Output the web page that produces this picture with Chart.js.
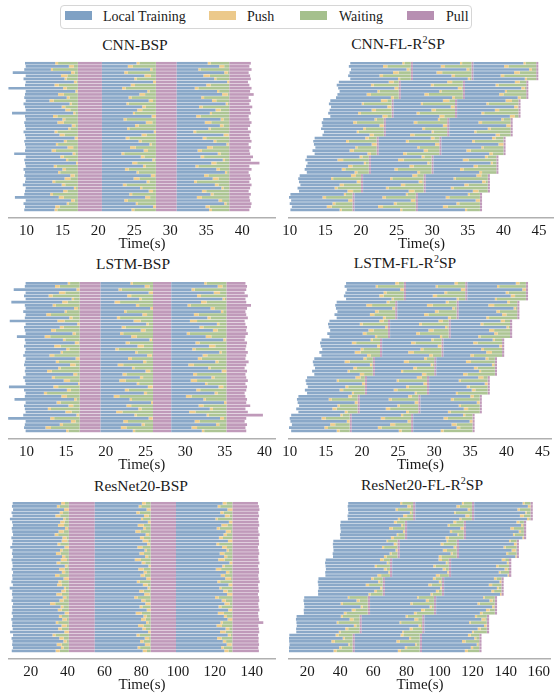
<!DOCTYPE html>
<html><head><meta charset="utf-8">
<script src="https://cdn.jsdelivr.net/npm/chart.js@4.4.1/dist/chart.umd.min.js"></script>
<style>
html,body{margin:0;padding:0;background:#fff;}
body{width:555px;height:696px;position:relative;overflow:hidden;font-family:"Liberation Serif","Times New Roman",serif;color:#1a1a1a;}
canvas{position:absolute;}
.t{position:absolute;transform:translate(-50%,-50%);font-size:15.5px;white-space:nowrap;line-height:18px;}
.t sup{font-size:10px;vertical-align:0;position:relative;top:-6px;}
#legend{position:absolute;left:60px;top:5px;width:410px;height:22px;border:1px solid #d6d6d6;border-radius:4px;}
.sw{position:absolute;top:5px;width:27px;height:9px;}
.lt{position:absolute;top:0;height:22px;line-height:22px;font-size:14px;white-space:nowrap;}
</style></head>
<body>
<div id="legend">
  <div class="sw" style="left:4px;background:#7fa1c4"></div><div class="lt" style="left:42px">Local Training</div>
  <div class="sw" style="left:148px;background:#ecc98b"></div><div class="lt" style="left:186px">Push</div>
  <div class="sw" style="left:239px;background:#a5c08d"></div><div class="lt" style="left:278px">Waiting</div>
  <div class="sw" style="left:346px;background:#b78fb2"></div><div class="lt" style="left:385px">Pull</div>
</div>
<div class="t" style="left:135px;top:45px">CNN-BSP</div>
<div class="t" style="left:398px;top:45px">CNN-FL-R<sup>2</sup>SP</div>
<div class="t" style="left:133px;top:264px">LSTM-BSP</div>
<div class="t" style="left:405px;top:264px">LSTM-FL-R<sup>2</sup>SP</div>
<div class="t" style="left:141px;top:486px">ResNet20-BSP</div>
<div class="t" style="left:422px;top:486px">ResNet20-FL-R<sup>2</sup>SP</div>
<canvas id="c1" width="268" height="198" style="left:8px;top:55px"></canvas>
<canvas id="c2" width="277" height="198" style="left:277px;top:55px"></canvas>
<canvas id="c3" width="268" height="199" style="left:8px;top:275px"></canvas>
<canvas id="c4" width="277" height="199" style="left:277px;top:275px"></canvas>
<canvas id="c5" width="268" height="199" style="left:8px;top:495px"></canvas>
<canvas id="c6" width="277" height="199" style="left:277px;top:495px"></canvas>
<script>
// ---------- CNN-BSP ----------
const cnnBspStart = [
9.8,9.9,9.7,8.1,9.9,9.6,9.9,9.8,
7.5,9.9,9.8,9.7,9.9,9.6,9.8,9.9,
8.0,9.8,9.9,9.7,9.8,9.9,9.6,9.8,
9.9,9.7,9.8,9.9,9.8,8.3,9.9,9.7,
9.8,9.9,9.6,9.8,9.7,9.9,9.8,9.5,
9.9,9.8,9.7,8.4,9.9,9.6,9.8,9.7];
const cnnBspTrain1 = [
14.0,15.9,13.4,16.2,14.8,15.3,16.6,13.9,
15.1,16.8,14.4,15.6,13.2,16.0,14.9,15.4,
16.5,13.7,15.0,14.3,16.3,15.8,13.9,14.6,
16.7,15.2,14.1,15.7,13.5,16.4,14.7,15.5,
16.9,13.8,15.0,14.4,16.1,15.3,13.6,14.9,
16.6,15.1,13.3,14.5,16.2,15.6,14.0,13.9];
const cnnBspTrain2 = [
25.3,24.1,27.2,23.6,26.4,25.0,27.6,24.5,
23.3,26.8,25.7,24.2,27.0,23.9,26.1,25.4,
24.8,27.4,23.5,26.6,25.1,24.0,27.7,26.0,
23.8,25.6,27.1,24.4,26.3,23.2,25.9,27.5,
24.7,26.2,23.7,25.3,27.3,24.9,26.7,23.4,
25.8,27.0,24.3,26.5,23.6,25.2,27.6,24.6];
const cnnBspTrain3 = [
35.2,36.8,33.9,37.5,34.6,36.1,37.9,35.0,
33.4,36.5,37.2,34.3,35.8,37.7,34.0,36.3,
35.5,33.6,37.0,34.8,36.9,35.3,33.2,37.4,
34.5,36.0,37.8,35.1,33.8,36.6,34.2,37.3,
35.7,33.5,36.4,37.6,34.7,35.9,33.3,36.2,
37.1,34.4,35.6,33.7,36.7,37.5,34.9,35.4];
const cnnBspPush = [
0.4,0.7,0.3,0.5,0.9,0.3,0.4,0.6,
0.5,0.3,0.8,0.4,0.6,0.3,0.5,0.7,
0.3,0.6,0.4,0.9,0.5,0.3,0.4,0.7,
0.5,0.4,0.3,0.8,0.6,0.4,0.5,0.3,
0.7,0.4,0.5,0.3,0.6,0.8,0.4,0.5,
0.3,0.6,0.4,0.7,0.5,0.3,0.6,0.4];
const cnnBspEnd = [
41.2,41.0,41.3,40.9,41.1,41.2,40.8,41.0,
41.3,41.1,41.6,40.9,41.2,41.0,41.4,41.1,
41.2,40.9,41.0,41.3,41.1,40.8,41.2,41.0,
41.1,41.3,40.9,41.2,41.0,41.1,41.5,41.2,
42.4,41.0,41.3,40.9,41.1,41.2,41.0,41.3,
41.1,40.9,41.2,41.0,41.1,41.3,41.2,41.0];
const cnnBspBarrier = [17.15, 28.0, 38.2];
const cnnBspPullEnd = [20.5, 30.9];
const cnnBspTicks = [10,15,20,25,30,35,40];

// ---------- LSTM-BSP ----------
const lstmBspStart = [
9.9,9.8,8.4,9.9,9.7,9.9,8.1,9.8,
9.9,9.6,9.9,9.8,7.9,9.9,9.7,9.8,
9.9,8.8,9.8,9.9,9.7,9.9,9.8,9.6,
9.9,9.8,9.7,9.9,9.8,9.9,9.6,9.8,
9.9,7.8,9.7,9.9,9.8,8.5,9.9,9.7,
9.8,9.9,9.6,7.7,9.9,9.8,9.7,9.9];
const lstmBspTrain1 = [
15.2,13.6,16.3,14.1,12.8,15.7,14.5,13.3,
16.0,14.8,12.5,15.4,13.9,16.4,14.2,13.1,
15.8,12.3,14.6,16.1,13.5,15.0,14.3,12.9,
16.2,13.7,15.5,14.0,12.6,15.9,13.2,14.7,
16.5,13.4,15.1,12.2,14.4,16.0,13.8,15.3,
12.7,14.9,16.3,13.0,15.6,14.2,12.4,15.0];
const lstmBspTrain2 = [
23.1,24.9,21.6,25.4,22.7,24.2,21.1,23.8,
25.6,22.3,24.6,21.4,23.5,25.1,22.0,24.4,
21.8,23.2,25.5,22.5,24.0,21.2,23.7,25.2,
22.8,24.7,21.5,23.3,25.0,22.1,24.3,21.7,
23.9,25.3,22.4,24.8,21.0,23.0,25.7,22.6,
24.1,21.3,23.6,25.4,22.2,24.5,21.9,23.4];
const lstmBspTrain3 = [
32.4,34.1,30.8,33.6,31.5,34.7,32.0,30.3,
33.2,34.5,31.1,32.8,30.6,34.0,31.8,33.5,
30.2,32.6,34.8,31.3,33.0,30.9,34.3,32.2,
31.6,33.8,30.4,32.9,34.6,31.0,33.3,30.7,
32.5,34.2,31.4,33.7,30.1,32.3,34.9,31.7,
33.1,30.5,32.7,34.4,31.2,33.9,30.8,32.1];
const lstmBspPush = [
0.3,0.6,0.4,0.8,0.5,0.3,0.7,0.4,
0.5,0.3,0.6,0.4,0.9,0.3,0.5,0.6,
0.4,0.7,0.3,0.5,0.8,0.4,0.3,0.6,
0.5,0.4,0.7,0.3,0.6,0.5,0.4,0.8,
0.3,0.6,0.5,0.4,0.7,0.3,0.5,0.6,
0.4,0.8,0.3,0.5,0.6,0.4,0.7,0.3];
const lstmBspEnd = [
37.6,37.8,37.7,37.5,37.9,37.6,37.7,38.3,
37.8,37.6,37.7,37.9,37.5,37.6,37.8,37.7,
37.9,37.6,37.5,37.8,37.7,37.6,37.9,37.7,
37.6,38.0,37.7,37.5,37.8,37.6,37.7,37.9,
37.6,37.8,37.7,37.5,37.6,37.8,37.7,38.2,
37.6,37.9,39.8,37.7,37.5,37.8,37.6,37.7];
const lstmBspBarrier = [16.7, 25.95, 35.2];
const lstmBspPullEnd = [19.35, 28.25];
const lstmBspTicks = [10,15,20,25,30,35,40];

// ---------- ResNet20-BSP ----------
const resBspStart = [
10.2,9.8,10.4,9.6,10.1,8.7,9.9,10.3,
9.7,10.0,10.4,9.5,10.2,9.9,8.9,10.1,
9.8,10.3,9.6,10.0,10.2,9.7,10.4,9.9,
10.1,9.5,10.3,8.6,10.0,9.8,10.2,9.6,
10.4,9.9,10.1,9.7,10.3,9.5,10.0,9.8,
10.2,8.8,10.4,9.6,10.1,9.9,10.3,9.7];
const resBspTrain1 = [
36.5,34.2,38.1,35.7,33.4,37.6,36.0,34.8,
38.6,35.1,33.0,37.2,36.8,34.5,38.3,35.9,
33.7,37.0,36.3,34.0,38.5,35.4,36.9,33.2,
37.8,35.0,34.3,38.0,36.6,33.9,37.4,35.6,
30.5,36.2,34.7,38.4,35.3,37.1,33.6,36.7,
34.9,38.2,31.8,35.5,37.7,34.1,36.4,33.5];
const resBspTrain2 = [
80.4,78.6,82.9,77.3,81.5,79.8,83.6,78.1,
81.0,76.8,82.4,79.3,80.7,83.2,77.9,81.8,
79.0,82.1,76.5,80.2,83.9,78.4,81.3,79.6,
82.7,77.6,80.9,83.4,78.9,81.6,76.2,80.0,
82.2,79.1,83.0,77.0,81.2,79.9,82.6,78.3,
80.6,83.7,77.4,81.9,79.4,82.0,78.0,80.8];
const resBspTrain3 = [
124.2,121.5,126.8,122.9,125.4,120.3,127.6,123.5,
121.0,125.9,124.7,122.2,127.1,120.8,123.9,126.3,
122.6,125.0,121.8,127.9,124.0,120.5,126.0,123.2,
125.6,121.3,127.4,122.4,124.5,126.6,120.1,123.7,
125.2,122.0,127.2,121.6,124.9,126.9,123.0,120.9,
125.8,122.8,127.0,121.2,124.3,126.4,123.4,125.1];
const resBspPush = [
2.1,1.4,3.0,1.8,2.6,1.2,2.4,3.3,
1.6,2.8,1.9,2.2,3.1,1.5,2.7,1.3,
2.5,1.7,3.4,2.0,1.4,2.9,1.8,2.3,
3.2,1.6,2.6,1.1,2.4,3.0,1.9,2.2,
2.8,1.5,2.1,3.3,1.7,2.5,1.3,2.9,
2.0,3.1,1.6,2.4,1.8,2.7,1.4,2.3];
const resBspEnd = [
143.4,143.9,144.2,143.6,144.0,143.5,143.8,144.1,
143.5,143.7,144.3,143.6,143.9,144.0,143.4,143.8,
144.1,143.6,143.7,144.2,143.5,143.9,144.0,143.6,
143.8,144.3,143.5,143.7,144.0,143.4,143.9,144.1,
143.6,143.8,144.2,143.5,143.7,144.0,146.3,143.6,
143.9,144.1,143.5,143.8,143.7,144.0,143.6,143.9];
const resBspBarrier = [40.7, 85.1, 129.5];
const resBspPullEnd = [54.8, 98.9];
const resBspTicks = [20,40,60,80,100,120,140];

// ---------- CNN-FL-R2SP (8 groups x 6 workers) ----------
const cnnFlStart = [
18.5,18.3,18.6,18.4,18.2,18.5, 16.9,16.6,16.8,17.0,16.7,16.5,
15.7,15.5,15.8,15.6,15.4,15.7, 14.7,14.5,14.6,14.4,14.8,14.6,
13.5,13.3,13.4,13.6,13.2,13.5, 12.4,12.2,12.5,12.3,12.1,12.4,
11.4,11.2,11.3,11.5,11.1,11.3, 10.1,9.9,10.2,10.0,10.3,10.1];
const cnnFlTrain1 = [
25.8,23.1,26.4,24.5,22.6,25.2, 23.9,21.4,24.7,22.3,20.8,24.2,
22.8,20.1,23.7,21.5,19.6,23.0, 21.9,18.9,22.6,20.3,19.4,21.2,
20.6,17.9,21.5,19.2,18.4,20.9, 19.8,16.7,20.4,18.2,17.3,19.1,
18.6,15.8,19.4,17.0,16.3,18.1, 17.6,14.6,18.2,16.0,15.2,17.0];
const cnnFlTrain2 = [
33.9,31.2,34.8,30.6,32.7,35.0, 32.1,29.8,33.6,31.0,28.9,32.8,
31.5,28.4,32.6,29.9,27.8,31.0, 30.8,27.4,31.5,28.6,29.9,26.9,
29.8,26.3,30.4,27.9,28.8,25.9, 28.5,25.2,29.3,26.8,24.7,27.9,
27.2,24.1,28.1,25.6,23.5,26.7, 26.3,23.0,27.0,24.6,22.4,25.5];
const cnnFlTrain3 = [
42.8,40.1,43.6,41.5,39.6,43.0, 41.6,38.9,42.5,40.2,39.4,42.0,
40.3,37.6,41.5,38.8,36.9,40.9, 39.7,36.5,40.4,37.8,35.9,38.9,
38.4,35.6,39.3,36.9,34.8,38.0, 37.4,34.3,38.2,35.8,33.9,36.6,
36.2,33.0,37.0,34.5,32.6,35.7, 35.0,31.9,36.1,33.4,31.5,34.6];
const cnnFlPush = [
0.3,0.6,0.4,0.8,0.5,0.3, 0.7,0.4,0.5,0.3,0.6,0.4,
0.9,0.3,0.5,0.6,0.4,0.7, 0.3,0.5,0.8,0.4,0.3,0.6,
0.5,0.4,0.7,0.3,0.6,0.5, 0.4,0.8,0.3,0.6,0.5,0.4,
0.7,0.3,0.5,0.6,0.4,0.8, 0.3,0.5,0.6,0.4,0.7,0.3];
const cnnFlSync1 = [27.0,25.3,24.3,23.2,22.2,21.1,20.0,18.8];
const cnnFlSync2 = [35.5,34.3,33.2,32.1,31.0,29.9,28.8,27.7];
const cnnFlSync3 = [44.6,43.2,42.1,41.0,40.0,39.0,37.8,36.7];
const cnnFlPull = 0.3;
const cnnFlTicks = [10,15,20,25,30,35,40,45];

// ---------- LSTM-FL-R2SP ----------
const lstmFlStart = [
17.8,17.6,17.9,17.7,17.5,17.8, 16.5,16.3,16.4,16.6,16.2,16.5,
15.5,15.3,15.4,15.6,15.2,15.5, 14.4,14.2,14.3,14.5,14.1,14.4,
13.4,13.2,13.3,13.5,13.1,13.4, 12.4,12.2,12.3,12.5,12.1,12.4,
11.2,11.0,11.1,11.3,10.9,11.2, 10.2,10.0,10.1,10.3,9.9,10.2];
const lstmFlTrain1 = [
24.6,21.9,25.3,23.0,22.4,24.1, 23.4,20.6,24.2,21.8,21.1,22.9,
22.4,19.7,23.2,20.9,20.1,21.8, 21.2,18.6,22.1,19.8,19.0,20.7,
20.2,17.6,21.1,18.8,18.0,19.7, 19.1,16.5,20.0,17.7,16.9,18.6,
18.1,15.4,19.0,16.6,15.9,17.6, 17.0,14.4,17.9,15.6,14.8,16.5];
const lstmFlTrain2 = [
32.8,30.2,33.7,31.4,29.8,33.1, 31.6,29.0,32.5,30.1,28.6,31.9,
30.6,27.9,31.5,29.2,27.5,30.8, 29.6,26.8,30.5,28.1,26.4,29.3,
28.6,25.8,29.5,27.1,25.4,28.3, 27.6,24.8,28.5,26.1,24.4,27.3,
26.4,23.7,27.3,24.9,23.3,26.1, 25.4,22.6,26.3,23.9,22.2,25.1];
const lstmFlTrain3 = [
41.3,38.7,42.2,39.9,40.6,38.4, 40.1,37.5,41.0,38.6,39.4,37.2,
39.2,36.4,40.0,37.6,38.3,36.1, 38.1,35.4,39.0,36.5,37.2,35.0,
37.1,34.4,38.0,35.5,36.2,34.0, 36.1,33.4,37.0,34.5,35.2,33.0,
35.0,32.3,35.9,33.4,34.1,31.9, 34.0,31.3,34.9,32.4,33.1,30.9];
const lstmFlPush = [
0.5,0.3,0.7,0.4,0.6,0.3, 0.4,0.8,0.3,0.5,0.6,0.4,
0.6,0.4,0.3,0.7,0.5,0.3, 0.3,0.6,0.5,0.4,0.8,0.5,
0.4,0.7,0.3,0.5,0.3,0.6, 0.7,0.3,0.6,0.4,0.5,0.3,
0.5,0.4,0.8,0.3,0.6,0.4, 0.3,0.6,0.4,0.7,0.5,0.4];
const lstmFlSync1 = [25.8,24.6,23.6,22.5,21.5,20.4,19.4,18.3];
const lstmFlSync2 = [34.3,33.1,32.0,31.0,30.0,29.0,27.8,26.8];
const lstmFlSync3 = [42.7,41.5,40.5,39.4,38.4,37.4,36.3,35.3];
const lstmFlPull = 0.3;
const lstmFlTicks = [10,15,20,25,30,35,40,45];

// ---------- ResNet20-FL-R2SP ----------
const resFlStart = [
44.8,44.5,44.7,44.9,44.4,44.6, 40.2,39.9,40.1,40.3,39.8,40.0,
35.8,35.5,35.7,35.9,35.4,35.6, 31.2,30.8,31.1,31.3,30.9,31.0,
26.8,26.4,26.7,26.9,26.5,26.6, 18.2,17.8,18.1,18.3,17.9,18.0,
13.6,13.2,13.5,13.7,13.3,13.4, 9.2,8.8,9.1,9.3,8.9,9.0];
const resFlTrain1 = [
76.2,80.5,73.4,82.1,78.0,74.8, 72.4,76.8,69.5,77.9,74.1,70.6,
67.9,72.3,65.2,73.4,69.8,66.4, 64.0,68.1,60.8,66.3,69.0,62.4,
58.6,62.9,55.4,64.1,60.5,57.0, 44.5,49.8,40.2,52.3,46.9,42.1,
40.3,45.6,37.8,48.2,43.0,39.1, 37.2,41.5,34.6,44.8,39.3,35.9];
const resFlTrain2 = [
113.5,110.2,117.0,108.8,115.6,111.9, 108.3,104.9,112.6,106.2,110.8,103.7,
104.2,100.6,108.5,102.0,106.7,99.5, 99.4,103.8,96.2,101.9,104.6,97.8,
96.0,99.6,93.2,100.4,97.8,94.5, 86.4,91.7,82.3,94.0,88.8,84.5,
79.5,84.7,75.8,87.3,81.9,77.4, 76.4,81.6,73.9,85.2,79.0,74.8];
const resFlTrain3 = [
150.2,153.4,147.1,151.8,148.6,152.9, 146.5,149.3,142.8,147.9,144.4,150.1,
142.0,145.0,138.7,143.6,140.3,145.8, 137.6,140.7,134.2,139.3,135.8,141.1,
132.9,136.2,129.8,134.7,131.3,136.6, 126.3,130.2,122.9,131.8,128.1,124.4,
121.4,125.3,117.9,126.9,123.1,119.6, 117.2,121.0,113.6,122.5,118.9,115.3];
const resFlPush = [
1.2,2.0,1.5,0.9,2.4,1.3, 1.8,1.1,2.2,1.4,0.9,1.9,
1.0,1.7,1.3,2.5,1.2,1.6, 2.1,0.9,1.4,1.8,1.1,2.3,
1.5,1.2,2.0,1.0,1.7,1.3, 0.9,1.9,1.4,1.2,2.2,1.6,
1.3,2.4,1.0,1.5,1.8,1.1, 1.7,1.2,2.1,0.9,1.4,1.9];
const resFlSync1 = [84.0,79.0,74.6,70.0,65.6,56.6,51.6,47.4];
const resFlSync2 = [119.6,114.6,110.4,105.6,101.4,96.6,89.5,88.0];
const resFlSync3 = [155.0,151.0,146.6,142.0,137.4,133.4,128.6,124.0];
const resFlPull = 1.4;
const resFlTicks = [20,40,60,80,100,120,140,160];

// ---------- build segments ----------
const COLORS = {train:'#8aa8c8', push:'#eecd8d', wait:'#adc594', pull:'#c09aba'};
const TYPES = ['train','push','wait','pull'];

function emptySegs(){ const s={}; TYPES.forEach(t=>s[t]=[[],[],[]]); return s; }
function addRound(segs, r, i, rs, te, push, barrier, pe){
  const pushEnd = Math.min(te + push, barrier);
  segs.train[r].push({y:i, x:[rs, te]});
  segs.push[r].push({y:i, x:[te, pushEnd]});
  segs.wait[r].push({y:i, x:[pushEnd, barrier]});
  segs.pull[r].push({y:i, x:[barrier, pe]});
}
function bspSegs(start, t1, t2, t3, push, end, barrier, pullEnd){
  const segs = emptySegs(); const T=[t1,t2,t3];
  for (let i=0;i<start.length;i++){
    const rs=[start[i], pullEnd[0], pullEnd[1]];
    const pe=[pullEnd[0], pullEnd[1], end[i]];
    for (let r=0;r<3;r++) addRound(segs, r, i, rs[r], T[r][i], push[i], barrier[r], pe[r]);
  }
  return segs;
}
function flSegs(start, t1, t2, t3, push, s1, s2, s3, pull){
  const segs = emptySegs(); const T=[t1,t2,t3];
  const per = start.length / s1.length;
  for (let i=0;i<start.length;i++){
    const g = Math.floor(i/per);
    const b=[s1[g], s2[g], s3[g]];
    const rs=[start[i], b[0]+pull, b[1]+pull];
    for (let r=0;r<3;r++) addRound(segs, r, i, rs[r], T[r][i], push[i], b[r], b[r]+pull);
  }
  return segs;
}
function toDatasets(segs){
  const ds=[];
  TYPES.forEach(t=>{ for(let r=0;r<3;r++) ds.push({
    label:t+r, data:segs[t][r], backgroundColor:COLORS[t], borderWidth:0,
    grouped:false, barPercentage:1, categoryPercentage:0.86 }); });
  return ds;
}
function makeChart(id, segs, xmin, xmax, ticks, nRows, padLeft){
  new Chart(document.getElementById(id), {
    type:'bar',
    data:{datasets:toDatasets(segs)},
    options:{
      indexAxis:'y', responsive:false, animation:false, devicePixelRatio:1,
      layout:{padding:{left:padLeft, right:0, top:0, bottom:0}},
      plugins:{legend:{display:false}, tooltip:{enabled:false}},
      scales:{
        y:{type:'linear', display:false, offset:false, reverse:true, min:-2.65, max:nRows-0.5+2.1},
        x:{type:'linear', position:'bottom', offset:false, min:xmin, max:xmax,
          grid:{display:false, drawTicks:false},
          border:{display:true, color:'#b0b0b0', width:1.5},
          afterBuildTicks:(s)=>{ s.ticks = ticks.map(v=>({value:v})); },
          afterFit:(s)=>{ s.height = 35; },
          ticks:{autoSkip:false, maxRotation:0, minRotation:0, padding:4, color:'#1a1a1a',
            font:{family:'Liberation Serif', size:15}},
          title:{display:true, text:'Time(s)', color:'#1a1a1a', padding:{top:0,bottom:0},
            font:{family:'Liberation Serif', size:15}}
        }
      }
    }
  });
}
makeChart('c1', bspSegs(cnnBspStart,cnnBspTrain1,cnnBspTrain2,cnnBspTrain3,cnnBspPush,cnnBspEnd,cnnBspBarrier,cnnBspPullEnd), 7.44, 44.7, cnnBspTicks, cnnBspStart.length, 0);
makeChart('c2', flSegs(cnnFlStart,cnnFlTrain1,cnnFlTrain2,cnnFlTrain3,cnnFlPush,cnnFlSync1,cnnFlSync2,cnnFlSync3,cnnFlPull), 9.9, 47.1, cnnFlTicks, cnnFlStart.length, 12);
makeChart('c3', bspSegs(lstmBspStart,lstmBspTrain1,lstmBspTrain2,lstmBspTrain3,lstmBspPush,lstmBspEnd,lstmBspBarrier,lstmBspPullEnd), 7.68, 41.4, lstmBspTicks, lstmBspStart.length, 0);
makeChart('c4', flSegs(lstmFlStart,lstmFlTrain1,lstmFlTrain2,lstmFlTrain3,lstmFlPush,lstmFlSync1,lstmFlSync2,lstmFlSync3,lstmFlPull), 9.9, 46.3, lstmFlTicks, lstmFlStart.length, 12);
makeChart('c5', bspSegs(resBspStart,resBspTrain1,resBspTrain2,resBspTrain3,resBspPush,resBspEnd,resBspBarrier,resBspPullEnd), 7.66, 153.2, resBspTicks, resBspStart.length, 0);
makeChart('c6', flSegs(resFlStart,resFlTrain1,resFlTrain2,resFlTrain3,resFlPush,resFlSync1,resFlSync2,resFlSync3,resFlPull), 9.0, 167.4, resFlTicks, resFlStart.length, 12);
</script>
</body></html>
